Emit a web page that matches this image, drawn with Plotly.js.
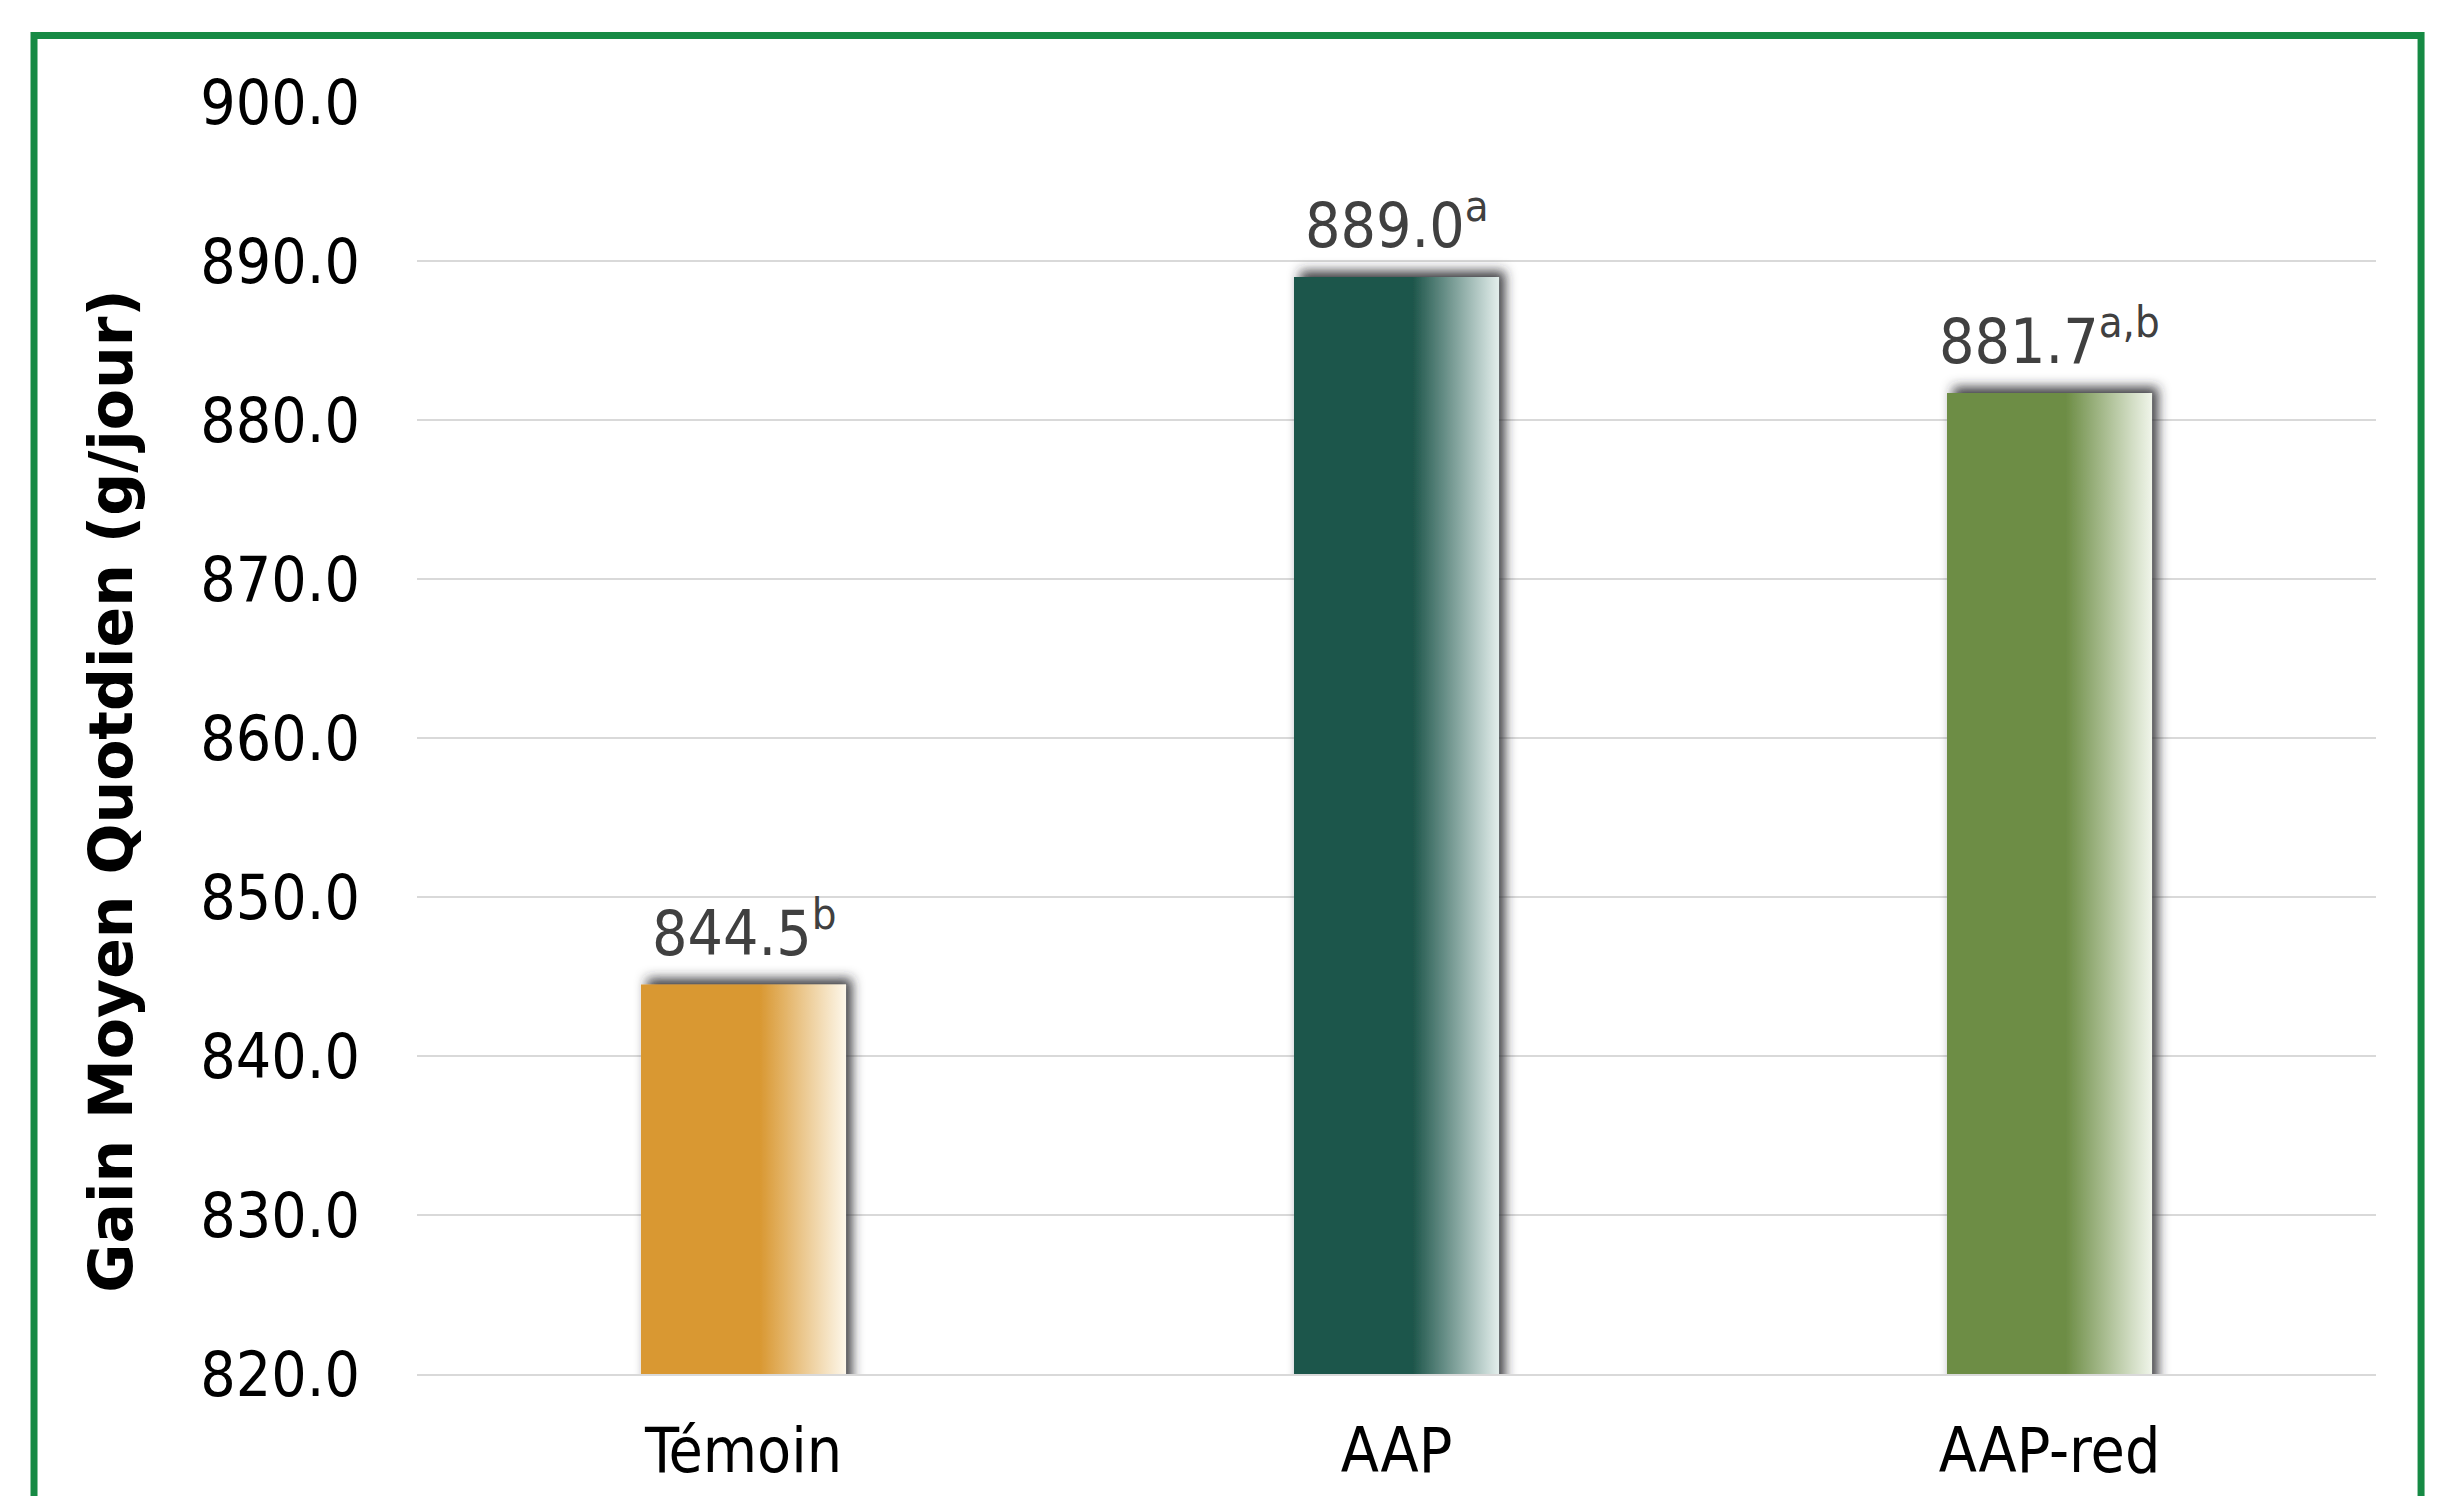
<!DOCTYPE html>
<html>
<head>
<meta charset="utf-8">
<script src="https://cdn.plot.ly/plotly-3.0.1.min.js"></script>
<style>
  html, body { margin: 0; padding: 0; background: #ffffff; }
  #chart { width: 2463px; height: 1496px; }
</style>
</head>
<body>
<svg width="0" height="0" style="position:absolute">
  <defs id="customDefs"></defs>
</svg>
<div id="chart"></div>
<script>
// ---- data ----
const categories = ["Témoin", "AAP", "AAP-red"];
const gmqValues = [844.5, 889.0, 881.7];
const significance = ["b", "a", "a,b"];
const yTickValues = [820, 830, 840, 850, 860, 870, 880, 890, 900];
const yTickLabels = ["820.0", "830.0", "840.0", "850.0", "860.0", "870.0", "880.0", "890.0", "900.0"];
const axisTitle = "Gain Moyen Quotdien (g/jour)";

// ---- styles ----
const barColors = ["#D99832", "#1E564B", "#6D8D45"];
const barLightColors = ["#FDF7EA", "#E3EEEC", "#F0F5EA"];
const tickFont = "'DejaVu Sans Condensed', 'Open Sans', sans-serif";

// gradient + shadow definitions
const NS = "http://www.w3.org/2000/svg";
const defs = document.getElementById("customDefs");
barColors.forEach((c, i) => {
  const g = document.createElementNS(NS, "linearGradient");
  g.setAttribute("id", "barGrad" + i);
  g.setAttribute("x1", "0"); g.setAttribute("y1", "0");
  g.setAttribute("x2", "1"); g.setAttribute("y2", "0");
  [[0, c], [0.58, c], [1, barLightColors[i]]].forEach(([o, col]) => {
    const s = document.createElementNS(NS, "stop");
    s.setAttribute("offset", o);
    s.setAttribute("stop-color", col);
    g.appendChild(s);
  });
  defs.appendChild(g);
});
const f = document.createElementNS(NS, "filter");
f.setAttribute("id", "barShadow");
f.setAttribute("x", "-30%"); f.setAttribute("y", "-30%");
f.setAttribute("width", "160%"); f.setAttribute("height", "160%");
const ds = document.createElementNS(NS, "feDropShadow");
ds.setAttribute("dx", "6"); ds.setAttribute("dy", "-6");
ds.setAttribute("stdDeviation", "6");
ds.setAttribute("flood-color", "#25252f");
ds.setAttribute("flood-opacity", "0.9");
f.appendChild(ds);
defs.appendChild(f);

const trace = {
  type: "bar",
  x: categories,
  y: gmqValues,
  width: 0.314,
  marker: { color: barColors, line: { width: 0 } },
  hoverinfo: "x+y",
  showlegend: false
};

const annotations = categories.map((c, i) => ({
  x: c, y: gmqValues[i], xref: "x", yref: "y",
  text: gmqValues[i].toFixed(1) + "<sup>" + significance[i] + "</sup>",
  showarrow: false, yanchor: "middle", yshift: 55, xshift: 0,
  font: { family: tickFont, size: 62, color: "#404040" }
}));
annotations.push({
  xref: "paper", yref: "paper", x: -0.156, y: 0.458,
  text: "<b>" + axisTitle + "</b>", textangle: -90, showarrow: false,
  xanchor: "center", yanchor: "middle",
  font: { family: "'DejaVu Sans', sans-serif", size: 60, color: "#000000" }
});

const layout = {
  width: 2463, height: 1496,
  margin: { l: 417, r: 87, t: 102, b: 122 },
  paper_bgcolor: "#ffffff", plot_bgcolor: "#ffffff",
  bargap: 0.686,
  xaxis: {
    type: "category",
    showgrid: false, zeroline: false,
    showline: true, linecolor: "#d9d9d9", linewidth: 2,
    ticks: "", ticklabelstandoff: 22,
    tickfont: { family: tickFont, size: 62, color: "#000000" }
  },
  yaxis: {
    range: [820, 900],
    tickvals: yTickValues, ticktext: yTickLabels,
    showgrid: true, gridcolor: "#d9d9d9", gridwidth: 2,
    zeroline: false, showline: false, ticks: "",
    ticklabelstandoff: 56,
    tickfont: { family: tickFont, size: 62, color: "#000000" }
  },
  annotations: annotations,
  shapes: [{
    type: "rect", xref: "paper", yref: "paper",
    x0: -0.1955, x1: 1.0230, y0: -0.13, y1: 1.0523,
    line: { color: "#168A44", width: 7 }, fillcolor: "rgba(0,0,0,0)"
  }]
};

Plotly.newPlot("chart", [trace], layout, { displayModeBar: false, staticPlot: true }).then(gd => {
  const paths = gd.querySelectorAll(".barlayer .trace.bars .point path");
  paths.forEach((p, i) => {
    p.style.fill = "url(#barGrad" + i + ")";
    p.setAttribute("filter", "url(#barShadow)");
  });
});
</script>
</body>
</html>
